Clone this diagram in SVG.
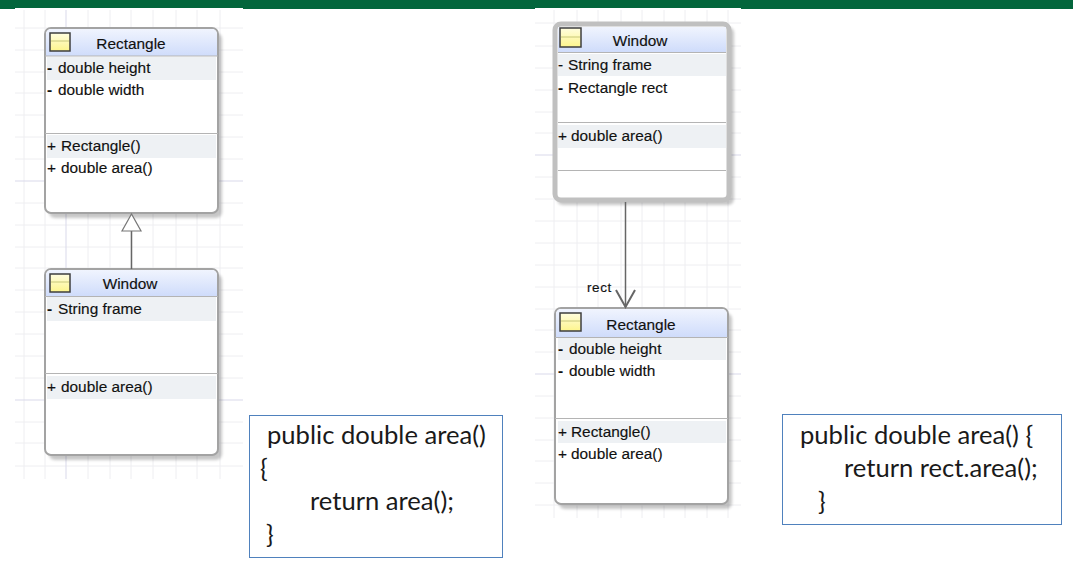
<svg xmlns="http://www.w3.org/2000/svg" width="1073" height="565" viewBox="0 0 1073 565">
<style>
.g{stroke:#eeeef1;stroke-width:1;fill:none}
.gd{stroke:#d9d9ea;stroke-width:1;fill:none}
.box{fill:#fff;stroke:#a3a3a3;stroke-width:2}
.sh{fill:#000;opacity:.22;filter:url(#b)}
.st{fill:#eef1f4}
.sep{stroke:#b4b4b4;stroke-width:1;fill:none}
.ic{fill:url(#y);stroke:#3e3e3e;stroke-width:1.5}
.icl{stroke:#c8c878;stroke-width:1;fill:none}
.t{font-family:"Liberation Sans",Arial,sans-serif;font-size:15.400px;fill:#111;stroke:#111;stroke-width:.15}
.m{text-anchor:middle}
.c{font-family:Lato,"Open Sans",sans-serif;font-size:25.600px;fill:#1a1a1a}
.cb{fill:#fff;stroke:#4f81bd;stroke-width:1}
.l{stroke:#666;stroke-width:1.5;fill:none}
</style>
<defs>
<linearGradient id="h" x1="0" y1="0" x2="0" y2="1"><stop offset="0" stop-color="#f0f4fe"/><stop offset="1" stop-color="#cfdcfb"/></linearGradient>
<linearGradient id="y" x1="0" y1="0" x2="0" y2="1"><stop offset="0" stop-color="#fffde0"/><stop offset="1" stop-color="#fdf58c"/></linearGradient>
<filter id="b" x="-10%" y="-10%" width="120%" height="120%"><feGaussianBlur stdDeviation="1.5"/></filter>
</defs>
<rect width="1073" height="565" fill="#fff"/>
<rect width="1073" height="9" fill="#03663c"/>
<rect x="15" y="8" width="228" height="2" fill="#fff"/>
<rect x="535" y="8" width="206" height="2" fill="#fff"/>
<g id="grid">
<path class="g" d="M24 10V479M45 10V479M88 10V479M110 10V479M131 10V479M153 10V479M176 10V479M197 10V479M220 10V479M15 28H243M15 50H243M15 72H243M15 93H243M15 115H243M15 137H243M15 159H243M15 203H243M15 225H243M15 247H243M15 268H243M15 290H243M15 312H243M15 334H243M15 356H243M15 378H243M15 422H243M15 443H243M15 466H243"/>
<path class="gd" d="M66 10V479M15 181H243M15 400H243"/>
<path class="g" d="M554 10V518M577 10V518M598 10V518M621 10V518M642 10V518M664 10V518M685 10V518M707 10V518M728 10V518M535 23H741M535 46H741M535 68H741M535 90H741M535 112H741M535 133H741M535 177H741M535 199H741M535 221H741M535 243H741M535 265H741M535 287H741M535 309H741M535 330H741M535 352H741M535 396H741M535 418H741M535 440H741M535 461H741M535 483H741M535 505H741"/>
<path class="gd" d="M535 155H741M535 374H741"/>
</g>
<g id="rect-left">
<rect class="sh" x="49" y="33" width="173" height="185" rx="6"/>
<rect class="box" x="45" y="28" width="173" height="185" rx="6"/>
<path d="M46 56V34a5 5 0 0 1 5-5H212a5 5 0 0 1 5 5V56Z" fill="url(#h)"/>
<path class="sep" d="M45 56H218"/>
<rect class="ic" x="50" y="33" width="20" height="18"/><path class="icl" d="M51 41H69"/>
<text class="t m" x="131" y="49">Rectangle</text>
<rect class="st" x="47" y="57" width="169" height="23"/>
<text class="t" x="47" y="73" font-weight="bold">-</text><text class="t" x="58" y="73">double height</text>
<text class="t" x="47" y="95" font-weight="bold">-</text><text class="t" x="58" y="95">double width</text>
<path class="sep" d="M45 133.500H218"/>
<rect class="st" x="47" y="135" width="169" height="23"/>
<text class="t" x="47" y="151">+</text><text class="t" x="61" y="151">Rectangle()</text>
<text class="t" x="47" y="173">+</text><text class="t" x="61" y="173">double area()</text>
</g>
<g id="window-left">
<rect class="sh" x="49" y="274" width="173" height="186" rx="6"/>
<rect class="box" x="45" y="269" width="173" height="186" rx="6"/>
<path d="M46 296V275a5 5 0 0 1 5-5H212a5 5 0 0 1 5 5V296Z" fill="url(#h)"/>
<path class="sep" d="M45 296.500H218"/>
<rect class="ic" x="50" y="274" width="20" height="18"/><path class="icl" d="M51 282H69"/>
<text class="t m" x="130" y="289">Window</text>
<rect class="st" x="47" y="297" width="169" height="24"/>
<text class="t" x="47" y="314" font-weight="bold">-</text><text class="t" x="58" y="314">String frame</text>
<path class="sep" d="M45 373.500H218"/>
<rect class="st" x="47" y="376" width="169" height="23"/>
<text class="t" x="47" y="392">+</text><text class="t" x="61" y="392">double area()</text>
</g>
<g id="window-right">
<rect class="sh" x="557" y="27" width="177" height="178" rx="6"/>
<rect x="555" y="24" width="174" height="176" rx="6" fill="#fff" stroke="#c0c0c0" stroke-width="5"/>
<path d="M558 52V27H726V52Z" fill="url(#h)"/>
<path class="sep" d="M558 52.500H726"/>
<rect class="ic" x="560" y="28" width="21" height="19"/><path class="icl" d="M561 37H580"/>
<text class="t m" x="640" y="46">Window</text>
<rect class="st" x="558" y="54" width="168" height="22"/>
<text class="t" x="558" y="70">-</text><text class="t" x="568" y="70">String frame</text>
<text class="t" x="558" y="93" font-weight="bold">-</text><text class="t" x="568" y="93">Rectangle rect</text>
<path class="sep" d="M558 122.500H726" stroke="#ccc"/>
<rect class="st" x="558" y="125" width="168" height="23"/>
<text class="t" x="558" y="141">+</text><text class="t" x="571" y="141">double area()</text>
<path class="sep" d="M558 170.500H726"/>
</g>
<g id="rect-right">
<rect class="sh" x="559" y="313" width="173" height="196" rx="6"/>
<rect class="box" x="555" y="308" width="173" height="196" rx="6"/>
<path d="M556 337V314a5 5 0 0 1 5-5H722a5 5 0 0 1 5 5V337Z" fill="url(#h)"/>
<path class="sep" d="M555 337.500H728"/>
<rect class="ic" x="560" y="313" width="21" height="18"/><path class="icl" d="M561 321H580"/>
<text class="t m" x="641" y="330">Rectangle</text>
<rect class="st" x="558" y="338" width="168" height="22"/>
<text class="t" x="558" y="354" font-weight="bold">-</text><text class="t" x="569" y="354">double height</text>
<text class="t" x="558" y="376" font-weight="bold">-</text><text class="t" x="569" y="376">double width</text>
<path class="sep" d="M555 418.500H728"/>
<rect class="st" x="558" y="421" width="168" height="22"/>
<text class="t" x="558" y="437">+</text><text class="t" x="571" y="437">Rectangle()</text>
<text class="t" x="558" y="459">+</text><text class="t" x="571" y="459">double area()</text>
</g>
<g id="connectors">
<path class="l" d="M131.500 231V269"/>
<path d="M131.500 214L122 231H141Z" fill="#fff" stroke="#777" stroke-width="1.200"/>
<path class="l" d="M625.500 202V307"/>
<path d="M616 290L625.500 307L635 290" fill="none" stroke="#666" stroke-width="2"/>
<text x="587" y="292" style="font-family:'Liberation Sans',Arial,sans-serif;font-size:13.500px;fill:#111;stroke:#111;stroke-width:.15;letter-spacing:.6px">rect</text>
</g>
<g id="code-left">
<rect class="cb" x="249.500" y="415.500" width="253" height="142"/>
<text class="c" x="267" y="444">public double area()</text>
<text class="c" x="260" y="477">{</text>
<text class="c" x="310" y="510">return area();</text>
<text class="c" x="266" y="543">}</text>
</g>
<g id="code-right">
<rect class="cb" x="782.500" y="414.500" width="279" height="110"/>
<text class="c" x="800" y="444">public double area() {</text>
<text class="c" x="844" y="477">return rect.area();</text>
<text class="c" x="818" y="510">}</text>
</g>
</svg>
